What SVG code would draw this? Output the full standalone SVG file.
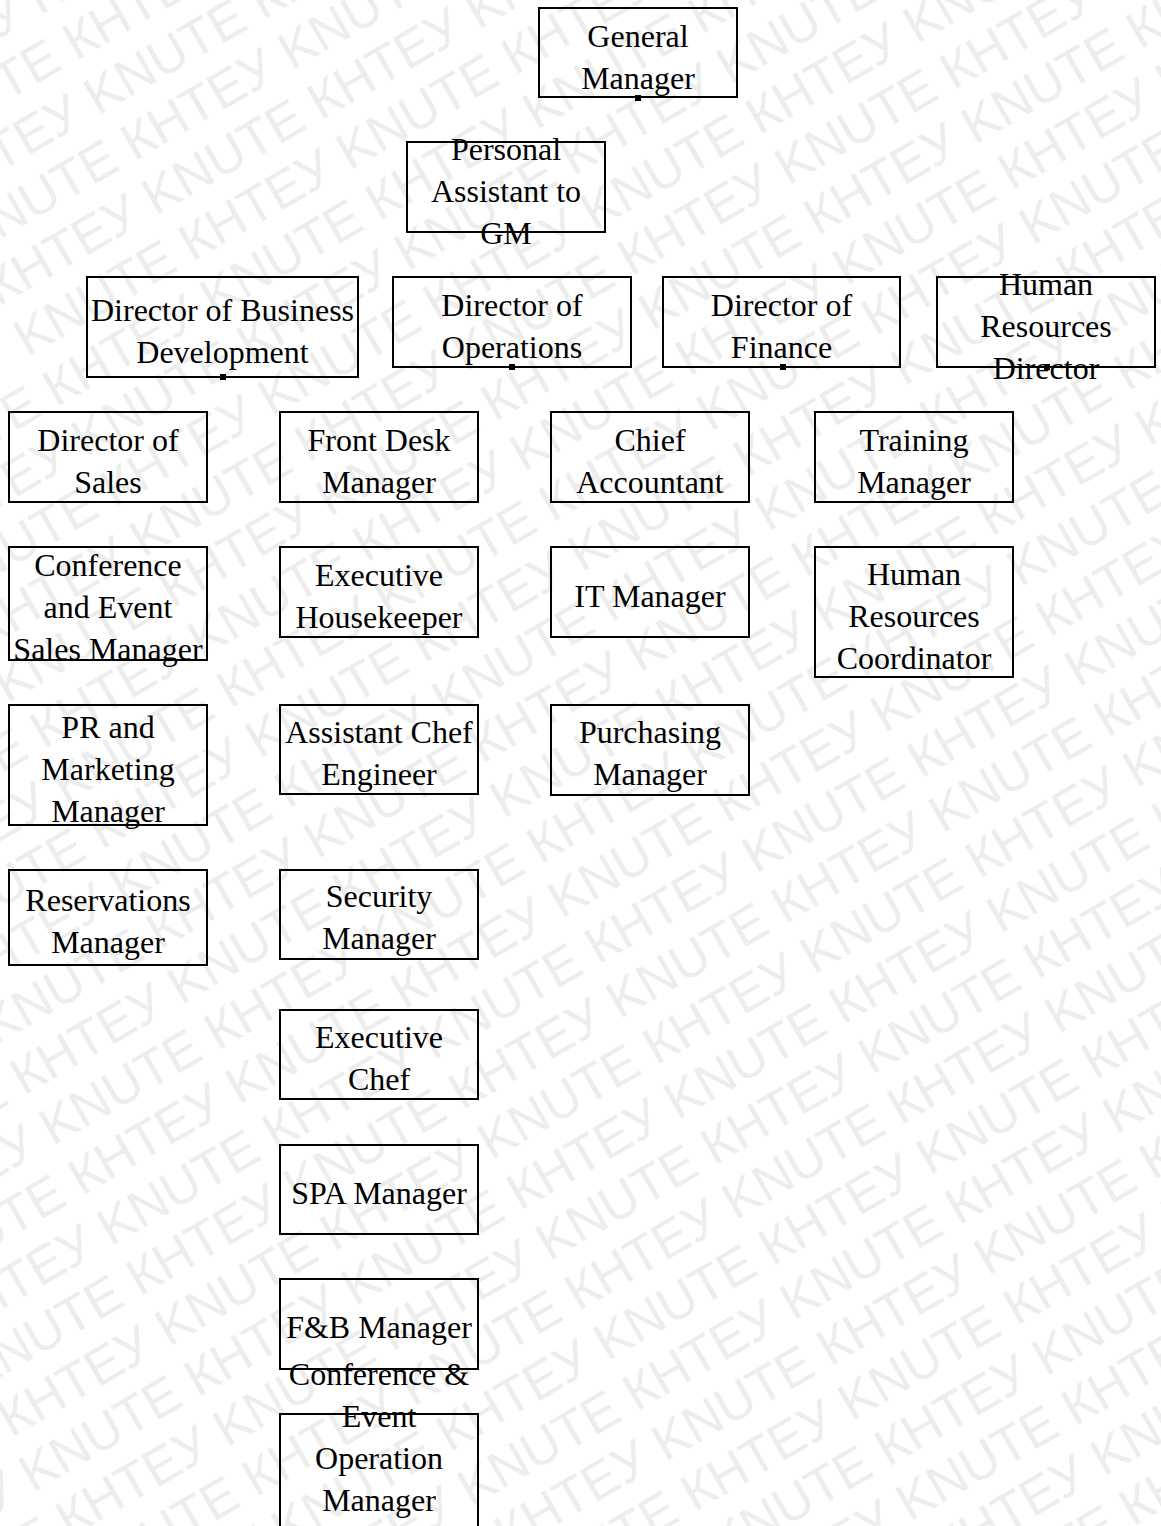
<svg xmlns="http://www.w3.org/2000/svg" width="1161" height="1526" viewBox="0 0 1161 1526">
<style>
.box{fill:none;stroke:#000;stroke-width:2}
.lbl{font-family:"Liberation Serif","Times New Roman",serif;font-size:32px;fill:#000;text-anchor:middle}
.wm{font-family:"Liberation Sans",Arial,sans-serif;font-size:52px;fill:#ededed}
.pt{fill:#000}
</style>
<rect x="0" y="0" width="1161" height="1526" fill="#fff"/>
<g id="watermark" transform="rotate(-30)">
<text class="wm" x="-900" y="-25">KNUTE КНТЕУ KNUTE КНТЕУ KNUTE КНТЕУ KNUTE КНТЕУ KNUTE КНТЕУ KNUTE КНТЕУ KNUTE КНТЕУ</text>
<text class="wm" x="-900" y="33">КНТЕУ KNUTE КНТЕУ KNUTE КНТЕУ KNUTE КНТЕУ KNUTE КНТЕУ KNUTE КНТЕУ KNUTE КНТЕУ KNUTE</text>
<text class="wm" x="-900" y="91">KNUTE КНТЕУ KNUTE КНТЕУ KNUTE КНТЕУ KNUTE КНТЕУ KNUTE КНТЕУ KNUTE КНТЕУ KNUTE КНТЕУ</text>
<text class="wm" x="-900" y="149">КНТЕУ KNUTE КНТЕУ KNUTE КНТЕУ KNUTE КНТЕУ KNUTE КНТЕУ KNUTE КНТЕУ KNUTE КНТЕУ KNUTE</text>
<text class="wm" x="-900" y="207">KNUTE КНТЕУ KNUTE КНТЕУ KNUTE КНТЕУ KNUTE КНТЕУ KNUTE КНТЕУ KNUTE КНТЕУ KNUTE КНТЕУ</text>
<text class="wm" x="-900" y="265">КНТЕУ KNUTE КНТЕУ KNUTE КНТЕУ KNUTE КНТЕУ KNUTE КНТЕУ KNUTE КНТЕУ KNUTE КНТЕУ KNUTE</text>
<text class="wm" x="-900" y="323">KNUTE КНТЕУ KNUTE КНТЕУ KNUTE КНТЕУ KNUTE КНТЕУ KNUTE КНТЕУ KNUTE КНТЕУ KNUTE КНТЕУ</text>
<text class="wm" x="-900" y="381">КНТЕУ KNUTE КНТЕУ KNUTE КНТЕУ KNUTE КНТЕУ KNUTE КНТЕУ KNUTE КНТЕУ KNUTE КНТЕУ KNUTE</text>
<text class="wm" x="-900" y="439">KNUTE КНТЕУ KNUTE КНТЕУ KNUTE КНТЕУ KNUTE КНТЕУ KNUTE КНТЕУ KNUTE КНТЕУ KNUTE КНТЕУ</text>
<text class="wm" x="-900" y="497">КНТЕУ KNUTE КНТЕУ KNUTE КНТЕУ KNUTE КНТЕУ KNUTE КНТЕУ KNUTE КНТЕУ KNUTE КНТЕУ KNUTE</text>
<text class="wm" x="-900" y="555">KNUTE КНТЕУ KNUTE КНТЕУ KNUTE КНТЕУ KNUTE КНТЕУ KNUTE КНТЕУ KNUTE КНТЕУ KNUTE КНТЕУ</text>
<text class="wm" x="-900" y="613">КНТЕУ KNUTE КНТЕУ KNUTE КНТЕУ KNUTE КНТЕУ KNUTE КНТЕУ KNUTE КНТЕУ KNUTE КНТЕУ KNUTE</text>
<text class="wm" x="-900" y="671">KNUTE КНТЕУ KNUTE КНТЕУ KNUTE КНТЕУ KNUTE КНТЕУ KNUTE КНТЕУ KNUTE КНТЕУ KNUTE КНТЕУ</text>
<text class="wm" x="-900" y="729">КНТЕУ KNUTE КНТЕУ KNUTE КНТЕУ KNUTE КНТЕУ KNUTE КНТЕУ KNUTE КНТЕУ KNUTE КНТЕУ KNUTE</text>
<text class="wm" x="-900" y="787">KNUTE КНТЕУ KNUTE КНТЕУ KNUTE КНТЕУ KNUTE КНТЕУ KNUTE КНТЕУ KNUTE КНТЕУ KNUTE КНТЕУ</text>
<text class="wm" x="-900" y="845">КНТЕУ KNUTE КНТЕУ KNUTE КНТЕУ KNUTE КНТЕУ KNUTE КНТЕУ KNUTE КНТЕУ KNUTE КНТЕУ KNUTE</text>
<text class="wm" x="-900" y="903">KNUTE КНТЕУ KNUTE КНТЕУ KNUTE КНТЕУ KNUTE КНТЕУ KNUTE КНТЕУ KNUTE КНТЕУ KNUTE КНТЕУ</text>
<text class="wm" x="-900" y="961">КНТЕУ KNUTE КНТЕУ KNUTE КНТЕУ KNUTE КНТЕУ KNUTE КНТЕУ KNUTE КНТЕУ KNUTE КНТЕУ KNUTE</text>
<text class="wm" x="-900" y="1019">KNUTE КНТЕУ KNUTE КНТЕУ KNUTE КНТЕУ KNUTE КНТЕУ KNUTE КНТЕУ KNUTE КНТЕУ KNUTE КНТЕУ</text>
<text class="wm" x="-900" y="1077">КНТЕУ KNUTE КНТЕУ KNUTE КНТЕУ KNUTE КНТЕУ KNUTE КНТЕУ KNUTE КНТЕУ KNUTE КНТЕУ KNUTE</text>
<text class="wm" x="-900" y="1135">KNUTE КНТЕУ KNUTE КНТЕУ KNUTE КНТЕУ KNUTE КНТЕУ KNUTE КНТЕУ KNUTE КНТЕУ KNUTE КНТЕУ</text>
<text class="wm" x="-900" y="1193">КНТЕУ KNUTE КНТЕУ KNUTE КНТЕУ KNUTE КНТЕУ KNUTE КНТЕУ KNUTE КНТЕУ KNUTE КНТЕУ KNUTE</text>
<text class="wm" x="-900" y="1251">KNUTE КНТЕУ KNUTE КНТЕУ KNUTE КНТЕУ KNUTE КНТЕУ KNUTE КНТЕУ KNUTE КНТЕУ KNUTE КНТЕУ</text>
<text class="wm" x="-900" y="1309">КНТЕУ KNUTE КНТЕУ KNUTE КНТЕУ KNUTE КНТЕУ KNUTE КНТЕУ KNUTE КНТЕУ KNUTE КНТЕУ KNUTE</text>
<text class="wm" x="-900" y="1367">KNUTE КНТЕУ KNUTE КНТЕУ KNUTE КНТЕУ KNUTE КНТЕУ KNUTE КНТЕУ KNUTE КНТЕУ KNUTE КНТЕУ</text>
<text class="wm" x="-900" y="1425">КНТЕУ KNUTE КНТЕУ KNUTE КНТЕУ KNUTE КНТЕУ KNUTE КНТЕУ KNUTE КНТЕУ KNUTE КНТЕУ KNUTE</text>
<text class="wm" x="-900" y="1483">KNUTE КНТЕУ KNUTE КНТЕУ KNUTE КНТЕУ KNUTE КНТЕУ KNUTE КНТЕУ KNUTE КНТЕУ KNUTE КНТЕУ</text>
<text class="wm" x="-900" y="1541">КНТЕУ KNUTE КНТЕУ KNUTE КНТЕУ KNUTE КНТЕУ KNUTE КНТЕУ KNUTE КНТЕУ KNUTE КНТЕУ KNUTE</text>
<text class="wm" x="-900" y="1599">KNUTE КНТЕУ KNUTE КНТЕУ KNUTE КНТЕУ KNUTE КНТЕУ KNUTE КНТЕУ KNUTE КНТЕУ KNUTE КНТЕУ</text>
<text class="wm" x="-900" y="1657">КНТЕУ KNUTE КНТЕУ KNUTE КНТЕУ KNUTE КНТЕУ KNUTE КНТЕУ KNUTE КНТЕУ KNUTE КНТЕУ KNUTE</text>
<text class="wm" x="-900" y="1715">KNUTE КНТЕУ KNUTE КНТЕУ KNUTE КНТЕУ KNUTE КНТЕУ KNUTE КНТЕУ KNUTE КНТЕУ KNUTE КНТЕУ</text>
<text class="wm" x="-900" y="1773">КНТЕУ KNUTE КНТЕУ KNUTE КНТЕУ KNUTE КНТЕУ KNUTE КНТЕУ KNUTE КНТЕУ KNUTE КНТЕУ KNUTE</text>
<text class="wm" x="-900" y="1831">KNUTE КНТЕУ KNUTE КНТЕУ KNUTE КНТЕУ KNUTE КНТЕУ KNUTE КНТЕУ KNUTE КНТЕУ KNUTE КНТЕУ</text>
<text class="wm" x="-900" y="1889">КНТЕУ KNUTE КНТЕУ KNUTE КНТЕУ KNUTE КНТЕУ KNUTE КНТЕУ KNUTE КНТЕУ KNUTE КНТЕУ KNUTE</text>
<text class="wm" x="-900" y="1947">KNUTE КНТЕУ KNUTE КНТЕУ KNUTE КНТЕУ KNUTE КНТЕУ KNUTE КНТЕУ KNUTE КНТЕУ KNUTE КНТЕУ</text>
</g>
<g id="nodes">
<g id="n-general-manager"><rect class="box" x="539" y="8" width="198" height="89"/><text class="lbl"><tspan x="638" y="47">General</tspan><tspan x="638" y="89">Manager</tspan></text></g>
<g id="n-personal-assistant"><rect class="box" x="407" y="142" width="198" height="90"/><text class="lbl"><tspan x="506" y="160">Personal</tspan><tspan x="506" y="202">Assistant to</tspan><tspan x="506" y="244">GM</tspan></text></g>
<g id="n-dir-business-dev"><rect class="box" x="87" y="277" width="271" height="100"/><text class="lbl"><tspan x="222.5" y="321">Director of Business</tspan><tspan x="222.5" y="363">Development</tspan></text></g>
<g id="n-dir-operations"><rect class="box" x="393" y="277" width="238" height="90"/><text class="lbl"><tspan x="512" y="316">Director of</tspan><tspan x="512" y="358">Operations</tspan></text></g>
<g id="n-dir-finance"><rect class="box" x="663" y="277" width="237" height="90"/><text class="lbl"><tspan x="781.5" y="316">Director of</tspan><tspan x="781.5" y="358">Finance</tspan></text></g>
<g id="n-hr-director"><rect class="box" x="937" y="277" width="218" height="90"/><text class="lbl"><tspan x="1046" y="295">Human</tspan><tspan x="1046" y="337">Resources</tspan><tspan x="1046" y="379">Director</tspan></text></g>
<g id="n-dir-sales"><rect class="box" x="9" y="412" width="198" height="90"/><text class="lbl"><tspan x="108" y="451">Director of</tspan><tspan x="108" y="493">Sales</tspan></text></g>
<g id="n-front-desk"><rect class="box" x="280" y="412" width="198" height="90"/><text class="lbl"><tspan x="379" y="451">Front Desk</tspan><tspan x="379" y="493">Manager</tspan></text></g>
<g id="n-chief-accountant"><rect class="box" x="551" y="412" width="198" height="90"/><text class="lbl"><tspan x="650" y="451">Chief</tspan><tspan x="650" y="493">Accountant</tspan></text></g>
<g id="n-training-manager"><rect class="box" x="815" y="412" width="198" height="90"/><text class="lbl"><tspan x="914" y="451">Training</tspan><tspan x="914" y="493">Manager</tspan></text></g>
<g id="n-conf-sales"><rect class="box" x="9" y="547" width="198" height="113"/><text class="lbl"><tspan x="108" y="576">Conference</tspan><tspan x="108" y="618">and Event</tspan><tspan x="108" y="660">Sales Manager</tspan></text></g>
<g id="n-exec-housekeeper"><rect class="box" x="280" y="547" width="198" height="90"/><text class="lbl"><tspan x="379" y="586">Executive</tspan><tspan x="379" y="628">Housekeeper</tspan></text></g>
<g id="n-it-manager"><rect class="box" x="551" y="547" width="198" height="90"/><text class="lbl"><tspan x="650" y="607">IT Manager</tspan></text></g>
<g id="n-hr-coordinator"><rect class="box" x="815" y="547" width="198" height="130"/><text class="lbl"><tspan x="914" y="585">Human</tspan><tspan x="914" y="627">Resources</tspan><tspan x="914" y="669">Coordinator</tspan></text></g>
<g id="n-pr-marketing"><rect class="box" x="9" y="705" width="198" height="120"/><text class="lbl"><tspan x="108" y="738">PR and</tspan><tspan x="108" y="780">Marketing</tspan><tspan x="108" y="822">Manager</tspan></text></g>
<g id="n-asst-chief-engineer"><rect class="box" x="280" y="705" width="198" height="89"/><text class="lbl"><tspan x="379" y="743">Assistant Chef</tspan><tspan x="379" y="785">Engineer</tspan></text></g>
<g id="n-purchasing"><rect class="box" x="551" y="705" width="198" height="90"/><text class="lbl"><tspan x="650" y="743">Purchasing</tspan><tspan x="650" y="785">Manager</tspan></text></g>
<g id="n-reservations"><rect class="box" x="9" y="870" width="198" height="95"/><text class="lbl"><tspan x="108" y="911">Reservations</tspan><tspan x="108" y="953">Manager</tspan></text></g>
<g id="n-security"><rect class="box" x="280" y="870" width="198" height="89"/><text class="lbl"><tspan x="379" y="907">Security</tspan><tspan x="379" y="949">Manager</tspan></text></g>
<g id="n-exec-chef"><rect class="box" x="280" y="1010" width="198" height="89"/><text class="lbl"><tspan x="379" y="1048">Executive</tspan><tspan x="379" y="1090">Chef</tspan></text></g>
<g id="n-spa"><rect class="box" x="280" y="1145" width="198" height="89"/><text class="lbl"><tspan x="379" y="1204">SPA Manager</tspan></text></g>
<g id="n-fb"><rect class="box" x="280" y="1279" width="198" height="90"/><text class="lbl"><tspan x="379" y="1338">F&amp;B Manager</tspan></text></g>
<g id="n-conf-event-ops"><rect class="box" x="280" y="1414" width="198" height="200"/><text class="lbl"><tspan x="379" y="1385">Conference &amp;</tspan><tspan x="379" y="1427">Event</tspan><tspan x="379" y="1469">Operation</tspan><tspan x="379" y="1511">Manager</tspan></text></g>
</g>
<g id="connectors">
<rect class="pt" x="635" y="95" width="6" height="6"/>
<rect class="pt" x="220" y="374" width="6" height="6"/>
<rect class="pt" x="509" y="364" width="6" height="6"/>
<rect class="pt" x="780" y="364" width="6" height="6"/>
<rect class="pt" x="1044" y="364" width="6" height="6"/>
</g>
</svg>
